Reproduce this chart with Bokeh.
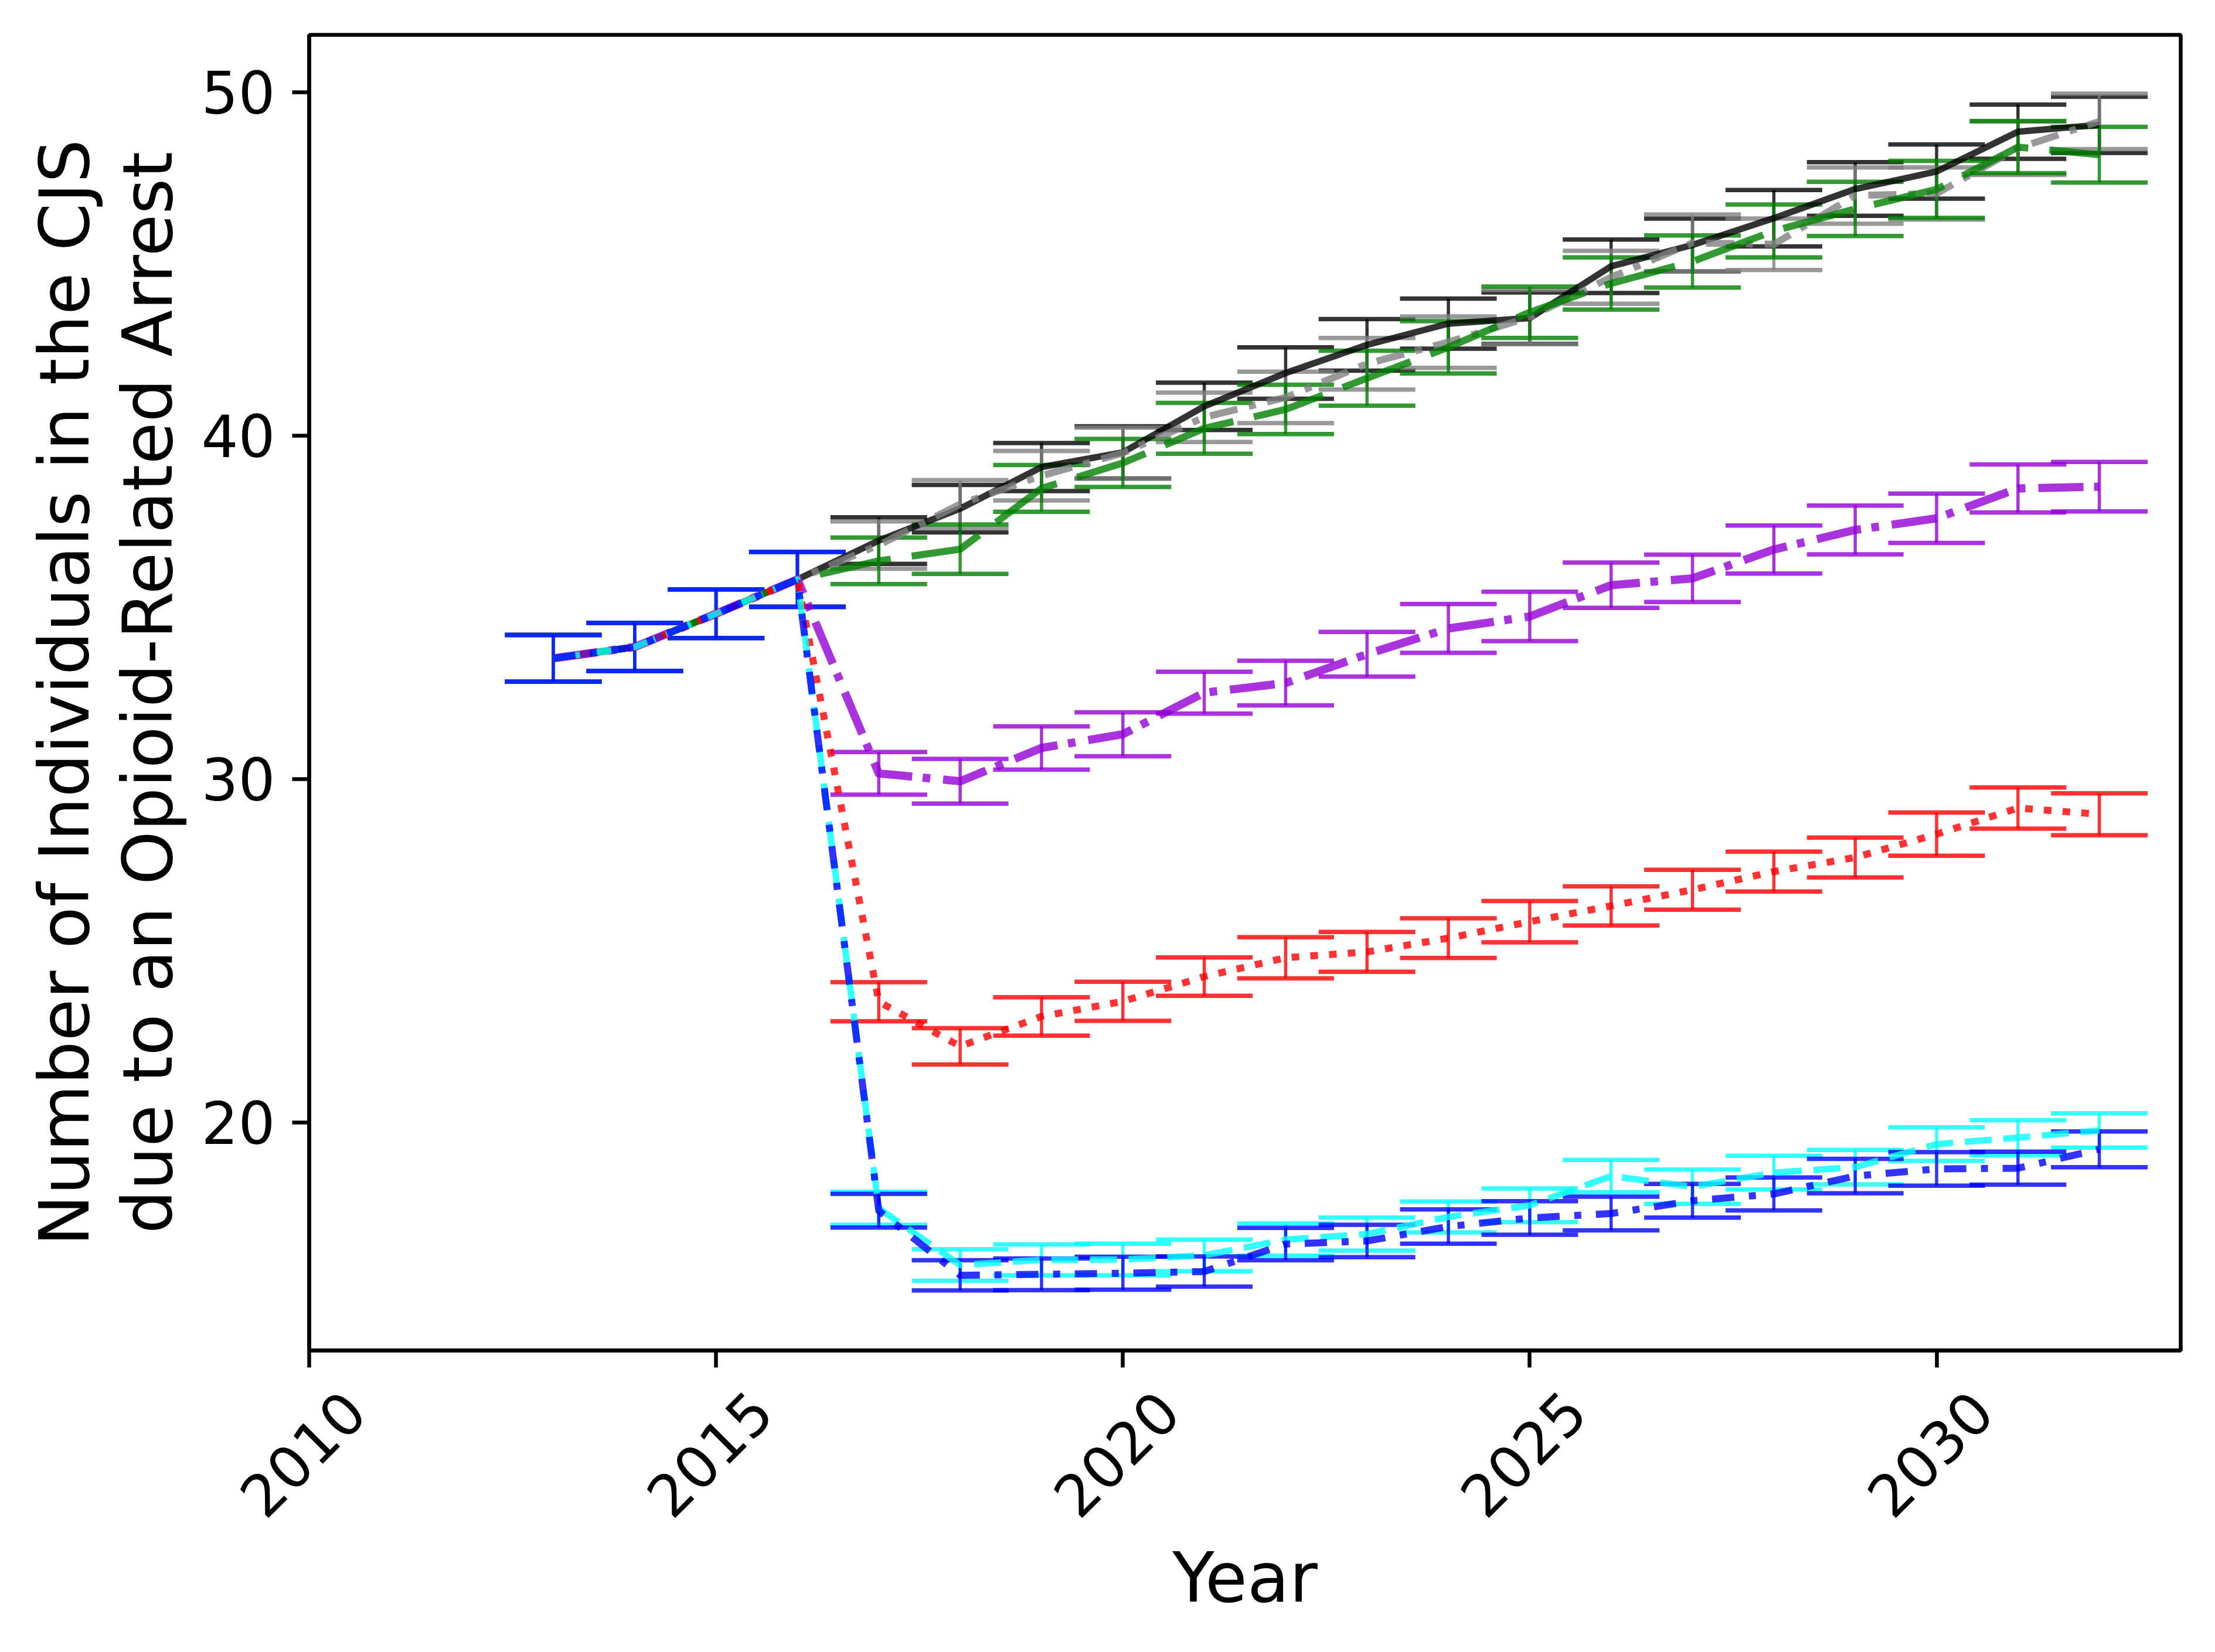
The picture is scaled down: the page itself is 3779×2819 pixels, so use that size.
import math
from bokeh.plotting import figure
from bokeh.models import (ColumnDataSource, Whisker, TeeHead, FixedTicker, Range1d,
                          BasicTickFormatter, LinearAxis)
from bokeh.embed import file_html
from bokeh.resources import INLINE

# ---------------- data ----------------
shared_years = [2013, 2014, 2015, 2016]
shared_mean = [33.52, 33.85, 34.82, 35.82]
shared_err = [0.68, 0.70, 0.71, 0.80]

proj_years = [2017, 2018, 2019, 2020, 2021, 2022, 2023, 2024,
              2025, 2026, 2027, 2028, 2029, 2030, 2031, 2032]

black_mean = [36.95, 37.88, 39.09, 39.52, 40.86, 41.83, 42.65, 43.27, 43.43, 44.94, 45.56, 46.34, 47.19, 47.70, 48.86, 49.06]
black_err = [0.68, 0.69, 0.70, 0.76, 0.69, 0.75, 0.75, 0.73, 0.75, 0.78, 0.77, 0.82, 0.78, 0.79, 0.79, 0.82]
gray_mean = [36.82, 38.01, 38.84, 39.50, 40.54, 41.12, 42.10, 42.73, 43.46, 44.62, 45.62, 45.58, 47.00, 47.06, 48.38, 49.16]
gray_err = [0.69, 0.70, 0.72, 0.74, 0.72, 0.75, 0.75, 0.75, 0.79, 0.77, 0.83, 0.75, 0.82, 0.76, 0.78, 0.81]
green_mean = [36.36, 36.70, 38.47, 39.21, 40.22, 40.77, 41.68, 42.58, 43.60, 44.44, 45.08, 45.97, 46.61, 47.18, 48.41, 48.19]
green_err = [0.68, 0.72, 0.68, 0.70, 0.74, 0.72, 0.80, 0.76, 0.75, 0.76, 0.76, 0.77, 0.79, 0.83, 0.76, 0.81]
purple_mean = [30.17, 29.94, 30.91, 31.31, 32.52, 32.80, 33.64, 34.39, 34.74, 35.65, 35.85, 36.69, 37.26, 37.60, 38.47, 38.52]
purple_err = [0.62, 0.65, 0.63, 0.64, 0.61, 0.65, 0.65, 0.71, 0.72, 0.66, 0.69, 0.70, 0.71, 0.72, 0.70, 0.72]
red_mean = [23.52, 22.22, 23.09, 23.53, 24.25, 24.80, 24.97, 25.37, 25.85, 26.31, 26.78, 27.31, 27.72, 28.40, 29.16, 28.98]
red_err = [0.57, 0.53, 0.56, 0.57, 0.56, 0.60, 0.58, 0.58, 0.60, 0.57, 0.58, 0.58, 0.58, 0.63, 0.60, 0.61]
cyan_mean = [17.50, 15.85, 16.00, 16.01, 16.13, 16.59, 16.75, 17.25, 17.59, 18.44, 18.13, 18.54, 18.70, 19.37, 19.56, 19.77]
cyan_err = [0.48, 0.46, 0.45, 0.46, 0.46, 0.47, 0.48, 0.45, 0.49, 0.47, 0.50, 0.49, 0.50, 0.49, 0.51, 0.50]
blue_mean = [17.43, 15.55, 15.58, 15.61, 15.66, 16.46, 16.55, 16.97, 17.22, 17.35, 17.72, 17.92, 18.44, 18.65, 18.67, 19.22]
blue_err = [0.49, 0.44, 0.46, 0.48, 0.44, 0.47, 0.47, 0.50, 0.49, 0.49, 0.49, 0.48, 0.50, 0.49, 0.48, 0.52]

x_ticks = [2010, 2015, 2020, 2025, 2030]
x_tick_labels = ["2010", "2015", "2020", "2025", "2030"]
y_ticks = [20, 30, 40, 50]

# ---------------- styles ----------------
series = [
    (black_mean, black_err, "#000000", None, 11),
    (gray_mean, gray_err, "#808080", "48 20 12 20", 12),
    (green_mean, green_err, "#008000", "124 36", 12),
    (purple_mean, purple_err, "#9400D3", "77 18 13 22", 14),
    (red_mean, red_err, "#FF0000", "13 19", 12),
    (cyan_mean, cyan_err, "#00FFFF", "46 20", 11),
    (blue_mean, blue_err, "#0000FF", "38 25 12 25", 12),
]

FONT = "DejaVu Sans"
TICK_FS = "99px"
LABEL_FS = "117px"

p = figure(width=3770, height=2810, output_backend="svg", toolbar_location=None,
           x_range=Range1d(2010, 2033), y_range=Range1d(13.36, 51.68),
           min_border_left=527, min_border_right=50, min_border_top=59, min_border_bottom=506)
p.background_fill_color = "white"
p.border_fill_color = "white"
p.outline_line_color = "black"
p.outline_line_width = 6.5
p.xgrid.visible = False
p.ygrid.visible = False

for mean, err, color, dash, lw in series:
    xs = shared_years + proj_years
    ys = shared_mean + mean
    es = shared_err + err
    src = ColumnDataSource(dict(x=xs, y=ys,
                                lo=[a - b for a, b in zip(ys, es)],
                                hi=[a + b for a, b in zip(ys, es)]))
    kw = dict(line_color=color, line_alpha=0.8, line_width=lw, line_join="round")
    if dash:
        kw["line_dash"] = dash
        kw["line_cap"] = "butt"
    p.line("x", "y", source=src, **kw)
    w = Whisker(source=src, base="x", upper="hi", lower="lo", dimension="height",
                line_color=color, line_alpha=0.8, line_width=5.5,
                upper_head=TeeHead(size=165, line_color=color, line_alpha=0.8, line_width=7.5),
                lower_head=TeeHead(size=165, line_color=color, line_alpha=0.8, line_width=7.5))
    p.add_layout(w)

for ax in (p.xaxis[0], p.yaxis[0]):
    ax.axis_line_width = 6.5
    ax.axis_line_color = "black"
    ax.major_tick_line_width = 6.5
    ax.major_tick_out = 29
    ax.major_tick_in = 0
    ax.minor_tick_line_color = None
    ax.major_label_text_font = FONT
    ax.major_label_text_font_size = TICK_FS
    ax.major_label_text_color = "black"
    ax.major_label_standoff = 29
    ax.axis_label_text_font = FONT
    ax.axis_label_text_font_size = LABEL_FS
    ax.axis_label_text_font_style = "normal"
    ax.axis_label_text_color = "black"
    ax.formatter = BasicTickFormatter(use_scientific=False)

# main x axis: tick marks only (its own labels are not drawn)
xa = p.xaxis[0]
xa.ticker = FixedTicker(ticks=x_ticks)
xa.major_label_text_font_size = "0px"
xa.major_label_text_color = None
xa.major_label_standoff = 0

# label axis: rotated tick labels centred like matplotlib (rotation=45, ha=center)
shift = 0.56
lab_ticks = [t + shift for t in x_ticks]
lab_axis = LinearAxis(ticker=FixedTicker(ticks=lab_ticks),
                      major_label_overrides={k: s for k, s in zip(lab_ticks, x_tick_labels)},
                      axis_line_color=None, major_tick_line_color=None,
                      minor_tick_line_color=None, major_tick_out=0, major_tick_in=0,
                      major_label_text_font=FONT, major_label_text_font_size=TICK_FS,
                      major_label_text_color="black", major_label_standoff=58,
                      major_label_orientation=math.pi / 4,
                      axis_label="Year", axis_label_standoff=0,
                      axis_label_text_font=FONT, axis_label_text_font_size=LABEL_FS,
                      axis_label_text_font_style="normal", axis_label_text_color="black")
p.add_layout(lab_axis, "below")

ya = p.yaxis[0]
ya.ticker = FixedTicker(ticks=y_ticks)
ya.axis_label = "Number of Individuals in the CJS\ndue to an Opioid-Related Arrest"
ya.axis_label_standoff = 20
ya.axis_label_text_line_height = 1.03

open("out.html", "w").write(file_html(p, INLINE))
